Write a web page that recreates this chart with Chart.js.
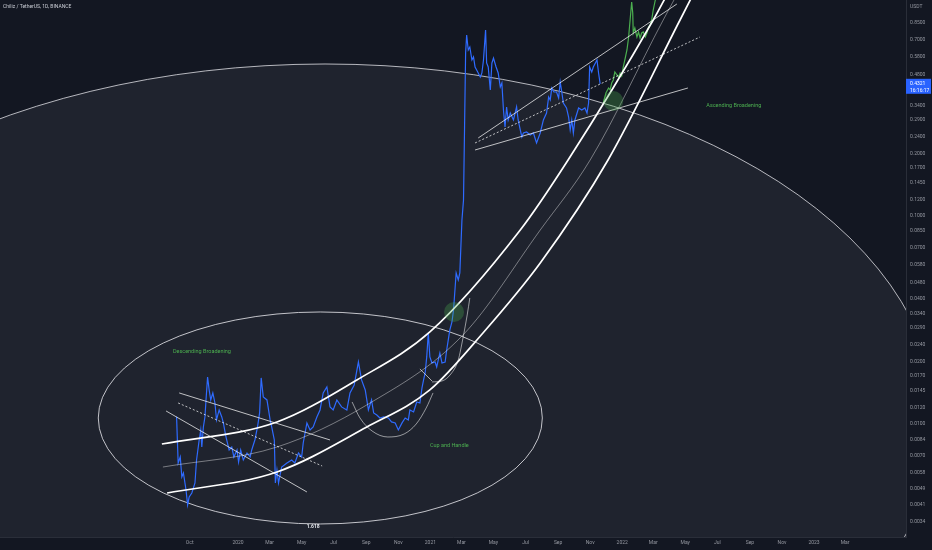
<!DOCTYPE html>
<html>
<head>
<meta charset="utf-8">
<script src="https://cdn.jsdelivr.net/npm/chart.js@4.4.0/dist/chart.umd.min.js"></script>
<style>
html, body { margin: 0; padding: 0; background: #131722; }
#wrap { width: 932px; height: 550px; }
</style>
</head>
<body>
<div id="wrap"><canvas id="chz" width="932" height="550"></canvas></div>
<script>

/* CHZ / USDT daily closes (day 0 = 2020-01-01) */
const days = [
  -117,-114,-110,-107,-104,-99,-96,-93,-88,-82,
  -79,-74,-71,-69,-66,-63,-61,-58,-55,-52,
  -48,-44,-41,-36,-31,-28,-23,-17,-12,-8,
  -2,1,5,10,17,23,26,32,37,41,
  44,48,55,61,64,69,71,74,77,83,
  93,102,108,115,121,124,131,137,143,150,
  156,162,169,175,181,188,197,207,213,221,
  229,235,242,248,254,258,264,270,277,286,
  292,299,305,312,318,324,327,334,340,346,
  350,353,356,359,362,365,369,375,378,384,
  388,394,397,400,403,407,410,415,419,422,
  426,429,431,433,435,438,441,445,448,451,
  454,461,464,467,471,473,476,480,483,486,
  491,495,499,502,505,508,511,514,518,524,
  530,533,537,540,543,549,556,562,568,575,
  581,587,591,594,597,601,606,610,613,616,
  619,625,629,632,635,638,641,648,654,660,
  664,667,669,673,676,683,686,689
];
const close = [
  0.01085,0.006494,0.006941,0.005562,0.005814,0.004817,0.00408,0.004457,0.004659,0.005205,
  0.006714,0.008377,0.009357,0.007752,0.009673,0.01081,0.01305,0.01683,0.01458,0.01305,
  0.0141,0.01262,0.01046,0.01168,0.01081,0.01012,0.00866,0.007499,0.007752,0.006941,
  0.007499,0.006567,0.007499,0.006714,0.007254,0.006941,0.007499,0.008377,0.009673,0.0113,
  0.01665,0.01349,0.01305,0.01046,0.009673,0.008377,0.005205,0.00601,0.005205,0.006213,
  0.006494,0.006714,0.006494,0.007254,0.006941,0.008103,0.01012,0.009357,0.009673,0.01081,
  0.01168,0.0141,0.01507,0.01208,0.01168,0.01305,0.01208,0.01168,0.0141,0.01541,
  0.01987,0.01628,0.01458,0.01168,0.01305,0.0113,0.01105,0.01069,0.01081,0.01069,
  0.01023,0.01012,0.009357,0.01012,0.01069,0.01046,0.01168,0.01143,0.01276,0.01262,
  0.01491,0.01628,0.01759,0.02101,0.02739,0.02101,0.01965,0.01987,0.0188,0.02195,
  0.01965,0.01987,0.02269,0.02535,0.02832,0.03094,0.03533,0.05321,0.04925,0.05321,
  0.09567,0.1194,0.2679,0.6077,0.7416,0.6282,0.6494,0.5624,0.5814,0.5205,
  0.5035,0.4659,0.4871,0.5624,0.7839,0.544,0.5205,0.4035,0.544,0.575,
  0.5205,0.4871,0.4171,0.436,0.3234,0.2679,0.3343,0.2895,0.3128,0.2895,
  0.3343,0.2895,0.2592,0.2398,0.2507,0.2535,0.2452,0.2507,0.2244,0.2507,
  0.2895,0.3128,0.3734,0.3612,0.4125,0.3946,0.3946,0.3693,0.4408,0.3946,
  0.3494,0.3306,0.2992,0.2592,0.2895,0.2507,0.2895,0.3306,0.3234,0.3306,
  0.3128,0.3494,0.5205,0.4925,0.5205,0.5624,0.4871,0.4321
];

/* projected path (green) */
const projDays = [695,700,705,708,711,714,717,721,724,727,730,733,736,740,743,746,749,751,752,755,
  759,762,765,768,771,775,778,781,784,787,790,794,797];
const projClose = [0.3494,0.3903,0.4125,0.4035,0.436,0.4507,0.4925,0.4764,0.4659,0.4871,
  0.4712,0.5205,0.5624,0.6282,0.7175,0.8756,1.0687,0.9462,0.7582,0.8014,
  0.7254,0.7667,0.7175,0.7582,0.7667,0.7254,0.7582,0.8103,0.8284,0.8756,0.9781,1.0926,1.1677];

/* axes */
const monthTicks = [-92,0,60,121,182,244,305,366,425,486,547,609,670,731,790,851,912,974,1035,1096,1155];
const monthLabels = ['Oct','2020','Mar','May','Jul','Sep','Nov','2021','Mar','May','Jul','Sep','Nov',
  '2022','Mar','May','Jul','Sep','Nov','2023','Mar'];
const priceTicks = [0.0034,0.0041,0.0049,0.0058,0.007,0.0084,0.01,0.012,0.0145,0.017,0.02,0.024,
  0.029,0.034,0.04,0.048,0.058,0.07,0.085,0.1,0.12,0.145,0.17,0.2,0.24,0.29,0.34,0.48,0.58,0.7,0.85];

/* drawings, as [day, price] anchors */
const channelTop = [[-145,0.008014],[74,0.01023],[226,0.01628],[365,0.0277],[537,0.08564],[628,0.1859],[790,0.8756],[826,1.29]];
const channelMid = [[-143,0.00621],[74,0.00775],[245,0.01235],[428,0.02679],[575,0.08564],[670,0.1859],[809,0.8756],[845,1.29]];
const channelLow = [[-135,0.00466],[74,0.00588],[245,0.00967],[365,0.01458],[466,0.02739],[575,0.05944],[704,0.1859],[841,0.8756],[875,1.29]];
const descTop = [[-112,0.0141],[175,0.00838]];
const descMid = [[-114,0.01262],[160,0.006282]];
const descLow = [[-137,0.01155],[131,0.004712]];
const ascTop = [[457,0.2372],[835,1.0453]];
const ascMid = [[451,0.2244],[879,0.7254]];
const ascLow = [[451,0.2077],[856,0.4125]];
const cupArc = [[217,0.01276],[232,0.01069],[255,0.009254],[285,0.00866],[316,0.008952],[339,0.01],[358,0.01194],[371,0.0141]];
const handleLine = [[346,0.01839],[369,0.0161]];
const handleArc = [[369,0.01593],[388,0.0161],[405,0.0174],[419,0.02032],[428,0.02592],[436,0.03343],[441,0.04035]];

/* ellipses: [dayFrom, dayTo, priceTop, priceBottom] */
const bigEllipse = [-999, 1330, 0.538, 0.000194];
const smallEllipse = [-266, 579, 0.03456, 0.003306];
const blobDays = [411, 714];
const blobPrices = [0.03456, 0.3572];

const noteText = ['Descending Broadening', 'Cup and Handle', 'Ascending Broadening'];
const noteDays = [-124, 365, 891];
const notePrices = [0.0222, 0.007839, 0.338];
const fibLabel = ['1.618', 143, 0.003198];


function pts(list) {
  return list.map(p => ({x: p[0], y: p[1]}));
}

function drawing(list, color, width, dash) {
  return {
    data: pts(list),
    borderColor: color,
    borderWidth: width,
    borderDash: dash || [],
    pointRadius: 0,
    cubicInterpolationMode: 'monotone',
    clip: 0,
    order: 0
  };
}

function ellipsePath(chart, box) {
  const xs = chart.scales.x, ys = chart.scales.y;
  const x1 = xs.getPixelForValue(box[0]), x2 = xs.getPixelForValue(box[1]);
  const y1 = ys.getPixelForValue(box[2]), y2 = ys.getPixelForValue(box[3]);
  chart.ctx.beginPath();
  chart.ctx.ellipse((x1 + x2) / 2, (y1 + y2) / 2, Math.abs(x2 - x1) / 2, Math.abs(y2 - y1) / 2, 0, 0, Math.PI * 2);
}

const tvPlugin = {
  id: 'tv',
  beforeDraw(chart) {
    const ctx = chart.ctx;
    ctx.save();
    ctx.fillStyle = '#131722';
    ctx.fillRect(0, 0, chart.width, chart.height);
    ctx.restore();
  },
  beforeDatasetsDraw(chart) {
    const ctx = chart.ctx, a = chart.chartArea;
    ctx.save();
    ctx.beginPath();
    ctx.rect(a.left, a.top, a.right - a.left, a.bottom - a.top);
    ctx.clip();
    ellipsePath(chart, bigEllipse);
    ctx.fillStyle = 'rgba(255,255,255,0.055)';
    ctx.fill();
    ctx.strokeStyle = 'rgba(235,235,240,0.75)';
    ctx.lineWidth = 1;
    ctx.stroke();
    ellipsePath(chart, smallEllipse);
    ctx.strokeStyle = 'rgba(235,235,240,0.8)';
    ctx.stroke();
    ctx.restore();
  },
  afterDatasetsDraw(chart) {
    const ctx = chart.ctx, a = chart.chartArea;
    const xs = chart.scales.x, ys = chart.scales.y;
    ctx.save();
    ctx.beginPath();
    ctx.rect(a.left, a.top, a.right - a.left, a.bottom - a.top);
    ctx.clip();

    // highlighted spots
    ctx.fillStyle = 'rgba(76,175,80,0.3)';
    for (let i = 0; i < blobDays.length; i++) {
      ctx.beginPath();
      ctx.arc(xs.getPixelForValue(blobDays[i]), ys.getPixelForValue(blobPrices[i]), 10, 0, Math.PI * 2);
      ctx.fill();
    }

    // pattern notes
    ctx.font = '5.5px Roboto, sans-serif';
    ctx.fillStyle = '#4caf50';
    ctx.textBaseline = 'middle';
    ctx.textAlign = 'left';
    for (let i = 0; i < noteText.length; i++) {
      ctx.fillText(noteText[i], xs.getPixelForValue(noteDays[i]), ys.getPixelForValue(notePrices[i]));
    }
    ctx.font = 'bold 5px Roboto, sans-serif';
    ctx.fillStyle = '#e6e8ee';
    ctx.textAlign = 'center';
    ctx.fillText(fibLabel[0], xs.getPixelForValue(fibLabel[1]), ys.getPixelForValue(fibLabel[2]));
    ctx.restore();

    // title
    ctx.save();
    ctx.font = '5px Roboto, sans-serif';
    ctx.fillStyle = '#c9ccd4';
    ctx.textBaseline = 'middle';
    ctx.fillText('Chiliz / TetherUS, 1D, BINANCE', 3, 7);

    // unit and last price badge
    ctx.fillStyle = '#9598a1';
    ctx.fillText('USDT', a.right + 4, 7);
    const last = close[close.length - 1];
    const yp = ys.getPixelForValue(last);
    ctx.fillStyle = '#2962ff';
    ctx.fillRect(a.right, yp - 5, chart.width - a.right - 1, 15);
    ctx.fillStyle = '#ffffff';
    ctx.fillText(last.toFixed(4), a.right + 4, yp);
    ctx.fillText('16:16:17', a.right + 4, yp + 6.5);
    ctx.restore();
  }
};

const tickFont = {family: 'Roboto, sans-serif', size: 5};

new Chart(document.getElementById('chz'), {
  type: 'line',
  data: {
    datasets: [
      drawing(channelTop, '#ffffff', 1.7),
      drawing(channelMid, 'rgba(255,255,255,0.45)', 0.9),
      drawing(channelLow, '#ffffff', 1.7),
      drawing(descTop, 'rgba(255,255,255,0.8)', 0.9),
      drawing(descMid, 'rgba(255,255,255,0.8)', 0.9, [2, 2]),
      drawing(descLow, 'rgba(255,255,255,0.8)', 0.9),
      drawing(ascTop, 'rgba(255,255,255,0.8)', 0.9),
      drawing(ascMid, 'rgba(255,255,255,0.8)', 0.9, [2, 2]),
      drawing(ascLow, 'rgba(255,255,255,0.8)', 0.9),
      drawing(cupArc, 'rgba(255,255,255,0.6)', 0.9),
      drawing(handleLine, 'rgba(255,255,255,0.7)', 0.9),
      drawing(handleArc, 'rgba(255,255,255,0.6)', 0.9),
      {
        data: projDays.map((d, i) => ({x: d, y: projClose[i]})),
        borderColor: '#4caf50',
        borderWidth: 1.2,
        pointRadius: 0,
        tension: 0,
        clip: 0,
        order: 1
      },
      {
        data: days.map((d, i) => ({x: d, y: close[i]})),
        borderColor: '#2f6bff',
        borderWidth: 1.2,
        pointRadius: 0,
        tension: 0,
        clip: 0,
        order: 2
      }
    ]
  },
  options: {
    responsive: false,
    devicePixelRatio: 1,
    animation: false,
    events: [],
    layout: {padding: 0},
    plugins: {legend: {display: false}, tooltip: {enabled: false}},
    scales: {
      x: {
        type: 'linear',
        position: 'bottom',
        min: -453,
        max: 1271,
        bounds: 'data',
        offset: false,
        grid: {display: false, drawTicks: false},
        border: {display: true, color: '#2a2e39'},
        afterBuildTicks: s => { s.ticks = monthTicks.map(v => ({value: v})); },
        afterFit: s => { s.height = 13; s.paddingLeft = 0; s.paddingRight = 0; },
        ticks: {
          autoSkip: false,
          maxRotation: 0,
          padding: 3,
          color: '#9598a1',
          font: tickFont,
          callback: (v, i) => monthLabels[i]
        }
      },
      y: {
        type: 'logarithmic',
        position: 'right',
        min: 0.002862,
        max: 1.0926,
        bounds: 'data',
        grid: {display: false, drawTicks: false},
        border: {display: true, color: '#2a2e39'},
        afterBuildTicks: s => { s.ticks = priceTicks.map(v => ({value: v})); },
        afterFit: s => { s.width = 26; s.paddingTop = 0; s.paddingBottom = 0; },
        ticks: {
          autoSkip: false,
          padding: 4,
          crossAlign: 'near',
          color: '#9598a1',
          font: tickFont,
          callback: v => v.toFixed(4)
        }
      }
    }
  },
  plugins: [tvPlugin]
});
</script>
</body>
</html>
